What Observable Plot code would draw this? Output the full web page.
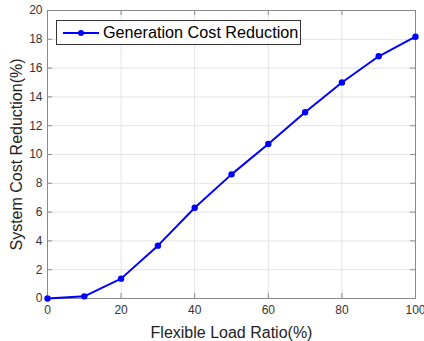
<!DOCTYPE html>
<html>
<head>
<meta charset="utf-8">
<script src="https://cdn.jsdelivr.net/npm/d3@7"></script>
<script src="https://cdn.jsdelivr.net/npm/@observablehq/plot@0.6"></script>
<style>
  html, body { margin: 0; padding: 0; background: #fff; }
  #wrap { position: relative; width: 424px; height: 341px; font-family: "Liberation Sans", Arial, sans-serif; }
  #legend { position: absolute; left: 56px; top: 20px; width: 245px; height: 25px; border: 1px solid #333; background: #fff;
    display: flex; align-items: center; box-sizing: border-box; }
  #legend svg { margin-left: 6px; }
  #legend span { font-size: 16.2px; color: #000; margin-left: 4px; white-space: nowrap; }
</style>
</head>
<body>
<div id="wrap"></div>
<script>
const ratio = [0, 10, 20, 30, 40, 50, 60, 70, 80, 90, 100];
const reduction = [0, 0.15, 1.38, 3.67, 6.3, 8.62, 10.73, 12.93, 15.0, 16.82, 18.18];
const xTicks = [0, 20, 40, 60, 80, 100];
const yTicks = [0, 2, 4, 6, 8, 10, 12, 14, 16, 18, 20];
const seriesName = "Generation Cost Reduction";
const xLabel = "Flexible Load Ratio(%)";
const yLabel = "System Cost Reduction(%)";

const data = ratio.map((r, i) => ({ratio: r, value: reduction[i]}));

const W = 424, H = 341, mL = 47, mR = 9, mT = 10, mB = 43;
const fw = W - mL - mR, fh = H - mT - mB, tl = 5;
const frameColor = "#8a8a8a";

const chart = Plot.plot({
  width: W, height: H,
  marginLeft: mL, marginRight: mR, marginTop: mT, marginBottom: mB,
  style: {fontFamily: "Liberation Sans, Arial, sans-serif", background: "#fff", overflow: "visible"},
  x: {domain: [0, 100]},
  y: {domain: [0, 20]},
  marks: [
    Plot.gridX(xTicks, {stroke: "#e3e3e3", strokeOpacity: 1, strokeWidth: 1}),
    Plot.gridY(yTicks, {stroke: "#e3e3e3", strokeOpacity: 1, strokeWidth: 1}),
    // inward ticks
    Plot.ruleX(xTicks, {x: d => d, insetTop: fh - tl, stroke: frameColor}),
    Plot.ruleX(xTicks, {x: d => d, insetBottom: fh - tl, stroke: frameColor}),
    Plot.ruleY(yTicks, {y: d => d, insetRight: fw - tl, stroke: frameColor}),
    Plot.ruleY(yTicks, {y: d => d, insetLeft: fw - tl, stroke: frameColor}),
    Plot.frame({stroke: frameColor, strokeWidth: 1}),
    Plot.axisX(xTicks, {tickSize: 0, tickPadding: 7, fontSize: 12, color: "#333",
      label: xLabel, labelAnchor: "center", labelArrow: "none", labelOffset: 39}),
    Plot.axisY(yTicks, {tickSize: 0, tickPadding: 5, fontSize: 12, color: "#333",
      label: yLabel, labelAnchor: "center", labelArrow: "none", labelOffset: 37}),
    Plot.lineY(data, {x: "ratio", y: "value", stroke: "#0000ff", strokeWidth: 2}),
    Plot.dot(data, {x: "ratio", y: "value", fill: "#0000ff", r: 3.2})
  ]
});

// style axis labels (larger, darker)
chart.querySelectorAll("g[aria-label='x-axis label'] text, g[aria-label='y-axis label'] text").forEach(t => {
  t.style.fontSize = "16px";
  t.setAttribute("fill", "#222");
});

const wrap = document.getElementById("wrap");
wrap.appendChild(chart);

const leg = document.createElement("div");
leg.id = "legend";
const ns = "http://www.w3.org/2000/svg";
const s = document.createElementNS(ns, "svg");
s.setAttribute("width", "36"); s.setAttribute("height", "10");
const ln = document.createElementNS(ns, "line");
ln.setAttribute("x1", "0"); ln.setAttribute("x2", "36"); ln.setAttribute("y1", "5"); ln.setAttribute("y2", "5");
ln.setAttribute("stroke", "#0000ff"); ln.setAttribute("stroke-width", "2");
const c = document.createElementNS(ns, "circle");
c.setAttribute("cx", "18"); c.setAttribute("cy", "5"); c.setAttribute("r", "3"); c.setAttribute("fill", "#0000ff");
s.appendChild(ln); s.appendChild(c);
leg.appendChild(s);
const sp = document.createElement("span");
sp.textContent = seriesName;
leg.appendChild(sp);
wrap.appendChild(leg);
</script>
</body>
</html>
